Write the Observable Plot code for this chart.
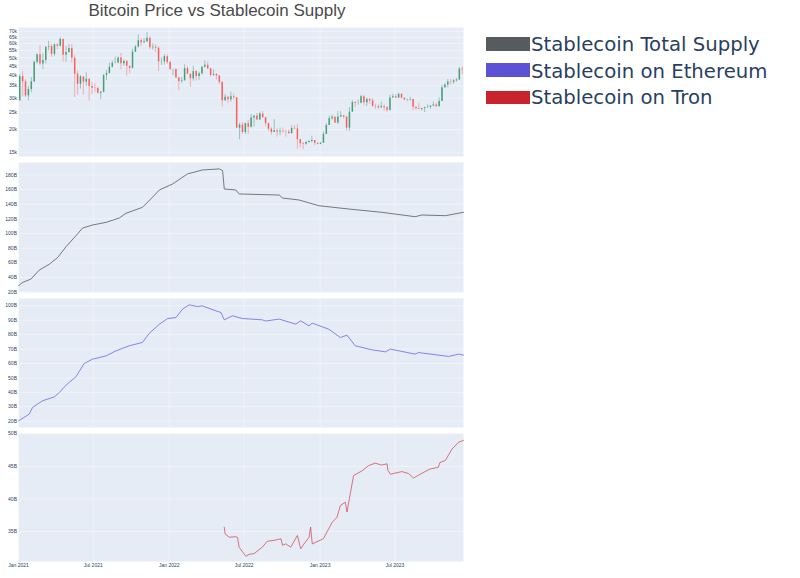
<!DOCTYPE html>
<html><head><meta charset="utf-8">
<script src="https://cdn.jsdelivr.net/npm/d3@7"></script>
<script src="https://cdn.jsdelivr.net/npm/@observablehq/plot@0.6"></script>
<style>
body{margin:0;background:#fff;}
#wrap{position:relative;width:800px;height:578px;overflow:hidden;background:#fff;font-family:"Liberation Sans",Arial,sans-serif;}
#title{position:absolute;top:2px;left:0;width:434px;text-align:center;font-size:17px;line-height:17px;color:#4a4a4a;white-space:nowrap;}
.leg{position:absolute;left:531px;font-family:"DejaVu Sans",Verdana,sans-serif;font-size:19.7px;line-height:19.7px;color:#2a3f5f;white-space:nowrap;}
.sw{position:absolute;left:486px;width:44px;height:13.5px;}
</style></head><body>
<div id="wrap">
<div id="title">Bitcoin Price vs Stablecoin Supply</div>
</div>
<script>
// ---- Bitcoin weekly candles (thousand USD), weeks starting 2021-01-01 ----
const btcStart = "2021-01-01";
const btcOpen = [29.0,39.4,36.8,30.8,33.4,36.8,47.3,52.1,46.3,48.4,57.3,57.7,52.3,59.0,58.0,63.2,51.7,53.6,56.4,49.7,40.6,35.7,39.2,36.7,38.1,34.7,33.9,33.8,31.8,32.3,39.9,40.9,44.4,46.7,46.9,49.9,46.4,47.7,44.9,43.8,53.8,57.4,62.2,60.6,61.5,64.2,56.9,57.2,56.5,47.5,47.6,50.8,47.1,
43.1,43.1,38.7,37.0,37.3,43.6,40.5,38.3,42.0,39.4,40.9,44.3,45.5,43.5,40.0,40.5,39.7,36.6,28.9,30.3,29.3,30.4,30.1,20.4,21.2,19.3,21.6,20.6,23.2,23.8,22.6,24.4,23.3,21.6,20.1,19.3,19.7,19.4,19.6,19.5,19.4,19.0,20.3,20.2,17.6,16.7,16.6,17.0,17.2,17.4,16.8,16.6,
16.8,18.8,21.1,23.0,23.4,21.8,23.5,23.9,23.5,20.4,25.0,28.3,28.0,28.0,30.4,28.2,29.4,28.9,26.9,26.8,26.4,26.8,26.5,25.6,30.0,30.4,29.9,31.4,29.9,29.2,29.2,29.4,26.6,26.1,25.9,26.2,26.5,26.6,27.0,27.4,26.8,28.7,34.2,35.4,36.7,36.6,37.3,37.7,43.3];
const btcHigh = [40.4,41.9,37.9,34.8,38.9,48.0,52.6,58.4,52.5,57.4,61.7,59.5,59.9,60.1,64.9,63.6,57.9,59.5,59.5,51.4,42.2,39.9,39.3,41.3,38.2,36.6,35.9,34.6,32.3,40.5,42.6,46.7,48.1,50.5,50.6,52.9,48.8,48.4,45.1,55.8,58.5,67.0,63.7,64.2,69.0,65.5,59.8,59.2,57.6,50.1,51.9,52.0,47.9,
43.2,43.5,39.0,39.0,45.8,44.8,40.9,45.0,42.5,41.7,44.8,48.2,47.5,43.9,42.9,40.8,40.0,36.6,31.3,30.6,32.3,31.6,30.1,21.7,21.9,21.8,22.5,24.3,23.8,24.6,25.0,25.2,23.3,21.8,20.5,22.7,20.2,20.4,20.4,19.9,19.9,21.0,21.1,21.4,17.6,17.0,17.2,17.4,18.4,17.4,16.9,17.0,
19.4,21.6,23.8,24.0,23.5,25.2,25.2,23.9,23.5,26.5,28.9,28.6,29.2,31.0,30.9,30.0,29.9,29.9,27.6,27.5,28.4,27.4,26.8,31.0,31.4,31.4,31.8,31.6,30.1,29.7,30.2,29.5,26.8,28.1,26.1,26.6,27.4,27.2,28.5,28.0,30.0,35.2,35.9,37.9,37.9,37.9,38.4,44.4,44.7];
const btcLow = [28.6,30.4,30.1,28.9,32.0,36.6,46.2,45.0,43.0,46.4,54.6,50.4,51.0,55.5,57.5,47.5,47.2,53.1,46.9,30.1,31.1,33.6,31.1,34.8,28.8,31.3,32.1,31.5,29.3,32.0,37.5,40.9,43.9,46.4,46.4,43.0,44.8,39.6,40.8,43.3,53.6,56.9,58.1,60.0,60.7,55.6,55.1,53.5,42.0,45.5,45.6,46.0,42.5,
39.7,38.6,33.0,36.2,37.3,41.6,34.3,37.2,37.2,37.6,40.1,44.0,43.1,39.2,39.5,37.7,35.5,26.7,28.7,28.0,28.4,29.3,20.2,17.6,18.9,18.8,18.9,20.4,20.7,22.4,22.6,23.2,20.8,19.6,18.6,19.3,18.2,18.5,19.1,18.2,18.9,18.9,20.0,15.6,15.8,15.5,16.4,16.8,16.9,16.3,16.5,16.5,
16.8,18.8,21.1,22.6,21.7,21.4,23.4,22.9,19.6,19.6,25.0,26.6,27.3,27.8,27.2,26.9,27.7,26.7,25.9,25.9,26.3,25.3,24.8,25.3,29.9,29.9,29.9,29.6,29.0,28.6,28.8,25.4,25.8,25.9,25.4,24.9,26.3,26.0,26.9,26.6,26.8,28.7,33.9,34.1,35.5,35.7,36.7,37.6,40.2];
const btcClose = [39.4,36.8,30.8,33.4,36.8,47.3,52.1,46.3,48.4,57.3,57.7,52.3,59.0,58.0,63.2,51.7,53.6,56.4,49.7,40.6,35.7,39.2,36.7,38.1,34.7,33.9,33.8,31.8,32.3,39.9,40.9,44.4,46.7,46.9,49.9,46.4,47.7,44.9,43.8,53.8,57.4,62.2,60.6,61.5,64.2,56.9,57.2,56.5,47.5,47.6,50.8,47.1,43.1,
43.1,38.7,37.0,37.3,43.6,40.5,38.3,42.0,39.4,40.9,44.3,45.5,43.5,40.0,40.5,39.7,36.6,28.9,30.3,29.3,30.4,30.1,20.4,21.2,19.3,21.6,20.6,23.2,23.8,22.6,24.4,23.3,21.6,20.1,19.3,19.7,19.4,19.6,19.5,19.4,19.0,20.3,20.2,17.6,16.7,16.6,17.0,17.2,17.4,16.8,16.6,16.8,
18.8,21.1,23.0,23.4,21.8,23.5,23.9,23.5,20.4,25.0,28.3,28.0,28.0,30.4,28.2,29.4,28.9,26.9,26.8,26.4,26.8,26.5,25.6,30.0,30.4,29.9,31.4,29.9,29.2,29.2,29.4,26.6,26.1,25.9,26.2,26.5,26.6,27.0,27.4,26.8,28.7,34.2,35.4,36.7,36.6,37.3,37.7,43.3,43.0];
const btcTicks = [15000,20000,25000,30000,35000,40000,45000,50000,55000,60000,65000,70000];

// ---- Stablecoin total supply (billion USD) ----
const totalDates = ["2021-01-01","2021-01-11","2021-01-31","2021-02-20","2021-03-17","2021-04-06","2021-04-26","2021-05-20","2021-06-05","2021-06-29","2021-08-01","2021-09-02","2021-09-18","2021-10-28","2021-11-21","2021-12-08","2022-01-09","2022-02-14","2022-03-22","2022-05-02","2022-05-10","2022-05-14","2022-06-11","2022-06-19","2022-09-24","2022-10-02","2022-11-11","2022-12-29","2023-03-11","2023-05-30","2023-08-19","2023-09-04","2023-10-31","2023-12-14"];
const totalValues = [28.7,33.2,37.8,50,58.3,67.4,82,97,107.5,111.6,115.3,121.2,127.6,135.8,149.4,159.5,167.7,181.4,186.8,188.2,186,160.8,159.5,154,152.6,148.5,145.8,138,133.5,129,123,125.3,124.4,129];
const totalTicks = [20,40,60,80,100,120,140,160,180];

// ---- Stablecoin on Ethereum (billion USD) ----
const ethDates = ["2021-01-01","2021-01-27","2021-02-04","2021-02-28","2021-03-29","2021-04-10","2021-04-26","2021-05-20","2021-06-09","2021-06-29","2021-08-01","2021-08-25","2021-09-26","2021-10-28","2021-11-13","2021-12-08","2021-12-28","2022-01-17","2022-02-02","2022-02-18","2022-03-10","2022-03-22","2022-04-24","2022-05-06","2022-05-14","2022-06-03","2022-06-27","2022-08-14","2022-08-22","2022-09-24","2022-11-03","2022-11-15","2022-12-05","2022-12-13","2023-01-22","2023-02-19","2023-03-07","2023-03-27","2023-05-06","2023-06-08","2023-06-20","2023-08-19","2023-08-27","2023-11-08","2023-12-02","2023-12-14"];
const ethValues = [20.2,24.9,29.5,34.1,36.9,39.9,45,50.8,60,63,65.3,68.8,72.3,74.6,80.8,87.3,91.2,91.9,97.7,100.7,99.5,100,96.5,95.4,90.3,93.1,91.2,90.3,89.5,90.8,87.3,89.6,86.1,88,83.8,78,79.7,72.3,69.5,68.1,70,66.5,67.6,64.9,66.5,65.8];
const ethTicks = [20,30,40,50,60,70,80,90,100];

// ---- Stablecoin on Tron (billion USD) ----
const tronDates = ["2022-05-14","2022-05-16","2022-05-26","2022-06-11","2022-06-15","2022-06-19","2022-07-05","2022-07-13","2022-07-25","2022-08-14","2022-08-26","2022-09-16","2022-09-28","2022-10-02","2022-10-10","2022-10-22","2022-11-07","2022-11-15","2022-11-23","2022-12-05","2022-12-09","2022-12-13","2023-01-09","2023-01-30","2023-02-11","2023-02-19","2023-03-03","2023-03-07","2023-03-15","2023-03-23","2023-04-12","2023-04-28","2023-05-14","2023-05-30","2023-06-12","2023-06-14","2023-06-20","2023-07-18","2023-08-03","2023-08-15","2023-08-31","2023-09-24","2023-10-14","2023-10-18","2023-10-31","2023-11-16","2023-12-02","2023-12-14"];
const tronValues = [35.66,34.64,34.13,34.2,34.1,32.6,31.2,31.5,31.6,32.6,33.5,33.7,33.9,32.9,33.1,32.6,34.4,32.35,33.1,34.1,35.7,33.1,33.9,36.4,37.2,39.0,39.5,38.0,40.8,43.6,44.3,45.1,45.5,45.2,45.4,44.4,43.8,44.2,43.9,43.2,43.8,44.6,44.85,45.6,45.9,47.65,48.7,49.0];
const tronTicks = [35,40,45,50];

// ---- shared x axis ----
const xDomainText = ["2021-01-01","2023-12-14"];
const xTickText = ["2021-01-01","2021-07-01","2022-01-01","2022-07-01","2023-01-01","2023-07-01"];

const legendNames = ["Stablecoin Total Supply","Stablecoin on Ethereum","Stablecoin on Tron"];
const legendColors = ["#575a5f","#5b52d5","#c9232e"];

// ---------------------------------------------------------------
const wrap = document.getElementById("wrap");
const xDomain = xDomainText.map(d => new Date(d));
const xTicks = xTickText.map(d => new Date(d));
const t0 = new Date(btcStart);
const btc = btcClose.map((c, i) => ({
  date: d3.utcDay.offset(t0, 7 * i + 3),
  o: btcOpen[i] * 1000, h: btcHigh[i] * 1000, l: btcLow[i] * 1000, c: c * 1000
}));
const up = btc.filter(d => d.c >= d.o), down = btc.filter(d => d.c < d.o);
const toSeries = (ds, vs) => ds.map((d, i) => ({date: new Date(d), v: vs[i]}));
const total = toSeries(totalDates, totalValues);
const eth = toSeries(ethDates, ethValues);
const tron = toSeries(tronDates, tronValues);

function panel({top, height, mt, mb, y, yTicks, marks, showX}) {
  const p = Plot.plot({
    width: 470, height, marginLeft: 18, marginRight: 7, marginTop: mt, marginBottom: mb,
    style: {fontFamily: "'Liberation Sans', Arial, sans-serif", fontSize: "5px", color: "#2a3f5f", background: "transparent", overflow: "visible"},
    x: showX ? {type: "utc", domain: xDomain, ticks: xTicks, tickFormat: d3.utcFormat("%b %Y"), tickSize: 0, tickPadding: 2, label: null}
             : {type: "utc", domain: xDomain, axis: null},
    y: {...y, ticks: yTicks, tickSize: 0, tickPadding: 1.5, label: null},
    marks: [
      Plot.frame({fill: "#E5ECF6", stroke: "none"}),
      Plot.ruleX(xTicks, {stroke: "#ffffff", strokeWidth: 0.7, strokeOpacity: 0.6}),
      Plot.ruleY(yTicks, {stroke: "#ffffff", strokeWidth: 0.7, strokeOpacity: 0.6}),
      ...marks
    ]
  });
  p.style.position = "absolute";
  p.style.top = top + "px";
  p.style.left = "0px";
  wrap.appendChild(p);
}

const inc = "#3D9970", dec = "#FF4136";
panel({top: 20, height: 143, mt: 7, mb: 7,
  y: {type: "log", domain: [14200, 73700], tickFormat: d => (d / 1000) + "k"}, yTicks: btcTicks,
  marks: [
    Plot.ruleX(up, {x: "date", y1: "l", y2: "h", stroke: inc, strokeWidth: 0.6, strokeOpacity: 0.8}),
    Plot.ruleX(down, {x: "date", y1: "l", y2: "h", stroke: dec, strokeWidth: 0.6, strokeOpacity: 0.6}),
    Plot.ruleX(up, {x: "date", y1: "o", y2: "c", stroke: inc, strokeWidth: 1.5, strokeOpacity: 0.9}),
    Plot.ruleX(down, {x: "date", y1: "o", y2: "c", stroke: dec, strokeWidth: 1.5, strokeOpacity: 0.75})
  ]});

panel({top: 155, height: 144, mt: 7, mb: 7,
  y: {domain: [19.5, 197], tickFormat: d => d + "B"}, yTicks: totalTicks,
  marks: [Plot.line(total, {x: "date", y: "v", stroke: legendColors[0], strokeWidth: 0.8})]});

panel({top: 291, height: 143, mt: 7, mb: 7,
  y: {domain: [15.6, 105.1], tickFormat: d => d + "B"}, yTicks: ethTicks,
  marks: [Plot.line(eth, {x: "date", y: "v", stroke: "#6e67e6", strokeWidth: 0.8})]});

panel({top: 426, height: 152, mt: 7, mb: 17,
  y: {domain: [30.4, 50.05], tickFormat: d => d + "B"}, yTicks: tronTicks, showX: true,
  marks: [Plot.line(tron, {x: "date", y: "v", stroke: "#d8505a", strokeWidth: 0.8})]});

// legend
const swTop = [37, 63, 90.5], txTop = [35, 61.6, 88.3];
legendNames.forEach((name, i) => {
  const s = document.createElement("div");
  s.className = "sw"; s.style.top = swTop[i] + "px"; s.style.background = legendColors[i];
  wrap.appendChild(s);
  const t = document.createElement("div");
  t.className = "leg"; t.style.top = txTop[i] + "px"; t.textContent = name;
  wrap.appendChild(t);
});
</script>
</body></html>
